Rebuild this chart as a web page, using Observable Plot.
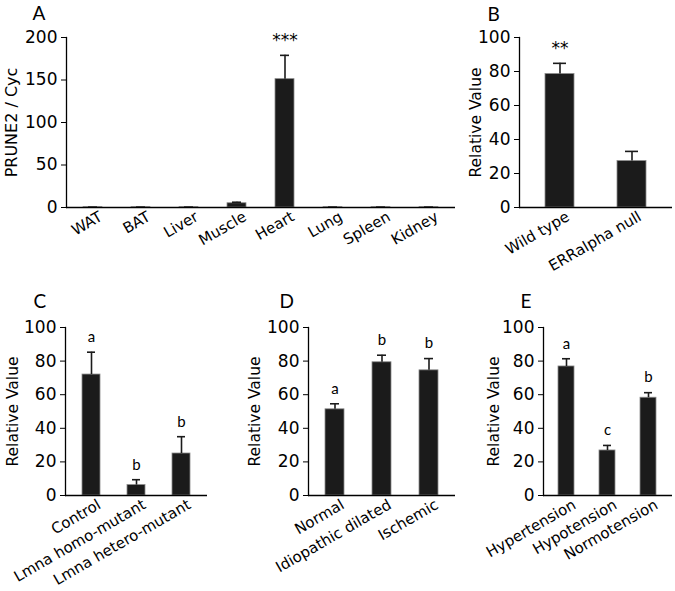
<!DOCTYPE html>
<html>
<head>
<meta charset="utf-8">
<script src="https://cdn.jsdelivr.net/npm/d3@7"></script>
<script src="https://cdn.jsdelivr.net/npm/@observablehq/plot@0.6"></script>
<style>
  html, body { margin: 0; padding: 0; background: #fff; }
  #fig { position: relative; width: 675px; height: 591px; overflow: hidden; background: #fff; }
  #fig > div, #fig > svg { position: absolute; }
</style>
</head>
<body>
<div id="fig"></div>
<script>
// ---- Data ----
const catsA = ["WAT", "BAT", "Liver", "Muscle", "Heart", "Lung", "Spleen", "Kidney"];
const valsA = [0.3, 0.3, 0.3, 5, 151, 0.3, 0.3, 0.3];
const errA  = [0.1, 0.1, 0.1, 1.2, 28, 0.1, 0.1, 0.1];
const sigA  = ["", "", "", "", "***", "", "", ""];
const ticksA = [0, 50, 100, 150, 200];

const catsB = ["Wild type", "ERRalpha null"];
const valsB = [78.5, 27.3];
const errB  = [6.3, 5.7];
const sigB  = ["**", ""];

const catsC = ["Control", "Lmna homo-mutant", "Lmna hetero-mutant"];
const valsC = [72, 6.2, 25];
const errC  = [13.3, 3.2, 10];
const sigC  = ["a", "b", "b"];

const catsD = ["Normal", "Idiopathic dilated", "Ischemic"];
const valsD = [51.3, 79.3, 74.5];
const errD  = [3.3, 4.2, 7];
const sigD  = ["a", "b", "b"];

const catsE = ["Hypertension", "Hypotension", "Normotension"];
const valsE = [76.8, 26.8, 58.2];
const errE  = [4.6, 3, 3];
const sigE  = ["a", "c", "b"];

const ticks100 = [0, 20, 40, 60, 80, 100];

// ---- Drawing ----
function panel(cfg) {
  const rows = cfg.cats.map((c, i) => ({cat: c, v: cfg.vals[i], up: cfg.vals[i] + cfg.errs[i], sig: cfg.sig[i]}));
  const ink = "#1b1b1b";
  const chart = Plot.plot({
    width: cfg.w, height: cfg.h,
    marginLeft: cfg.ml, marginRight: cfg.mr, marginTop: cfg.mt, marginBottom: cfg.mb,
    style: {fontFamily: "DejaVu Sans", fontSize: "15px", color: "#000", background: "transparent", overflow: "visible"},
    x: {domain: cfg.cats, paddingInner: 0.6, paddingOuter: 0.35},
    y: {domain: [0, cfg.ymax]},
    marks: [
      Plot.barY(rows, {x: "cat", y: "v", fill: ink, stroke: "#8a8a8a", strokeWidth: 0.8}),
      Plot.ruleX(rows, {x: "cat", y1: "v", y2: "up", stroke: ink, strokeWidth: 1.6}),
      Plot.tickY(rows, {x: "cat", y: "up", insetLeft: cfg.cap, insetRight: cfg.cap, stroke: ink, strokeWidth: 1.6}),
      Plot.text(rows, {x: "cat", y: "up", text: "sig", dy: cfg.sigDy, fontFamily: cfg.sigFont, fontSize: cfg.sigSize, fill: "#000"}),
      Plot.ruleY([0], {stroke: "#000", strokeWidth: 1.3}),
      Plot.frame({anchor: "left", stroke: "#000", strokeWidth: 1.3}),
      Plot.axisY({ticks: cfg.yticks, tickSize: 5, tickPadding: 4, label: null, fontSize: 17, tickFormat: d => String(d)}),
      Plot.axisX({tickSize: 0, tickPadding: 8, tickRotate: -30, label: null, fontSize: 15, dx: 8}),
      Plot.text([cfg.ylabel], {frameAnchor: "left", textAnchor: "middle", lineAnchor: "middle", rotate: -90,
        dx: cfg.labelDx, fontSize: cfg.labelSize, fill: "#000"}),
      Plot.text([cfg.letter], {frameAnchor: "top-left", textAnchor: "start", lineAnchor: "bottom",
        dx: cfg.letterDx, dy: cfg.letterDy, fontFamily: "Lato", fontSize: 19, fill: "#000"})
    ]
  });
  chart.style.left = cfg.left + "px";
  chart.style.top = cfg.top + "px";
  document.getElementById("fig").appendChild(chart);
}

panel({letter: "A", cats: catsA, vals: valsA, errs: errA, sig: sigA, ymax: 200, yticks: ticksA,
  ylabel: "PRUNE2 / Cyc", labelSize: 16, left: 0, top: 0, w: 460, h: 290, ml: 66, mr: 5, mt: 37, mb: 83,
  cap: 5, sigDy: -15, sigFont: "DejaVu Sans", sigSize: 17, labelDx: -55, letterDx: -34, letterDy: -18});

panel({letter: "B", cats: catsB, vals: valsB, errs: errB, sig: sigB, ymax: 100, yticks: ticks100,
  ylabel: "Relative Value", labelSize: 15.5, left: 460, top: 0, w: 215, h: 290, ml: 59, mr: 3, mt: 37, mb: 83,
  cap: 8, sigDy: -15, sigFont: "DejaVu Sans", sigSize: 17, labelDx: -43, letterDx: -32, letterDy: -17});

panel({letter: "C", cats: catsC, vals: valsC, errs: errC, sig: sigC, ymax: 100, yticks: ticks100,
  ylabel: "Relative Value", labelSize: 15.5, left: 0, top: 295, w: 212, h: 296, ml: 65, mr: 5, mt: 32, mb: 96,
  cap: 5, sigDy: -15, sigFont: "Lato", sigSize: 15, labelDx: -52, letterDx: -32, letterDy: -20});

panel({letter: "D", cats: catsD, vals: valsD, errs: errD, sig: sigD, ymax: 100, yticks: ticks100,
  ylabel: "Relative Value", labelSize: 15.5, left: 212, top: 295, w: 248, h: 296, ml: 96, mr: 5, mt: 32, mb: 96,
  cap: 5, sigDy: -15, sigFont: "Lato", sigSize: 15, labelDx: -53, letterDx: -29, letterDy: -20});

panel({letter: "E", cats: catsE, vals: valsE, errs: errE, sig: sigE, ymax: 100, yticks: ticks100,
  ylabel: "Relative Value", labelSize: 15.5, left: 460, top: 295, w: 215, h: 296, ml: 83, mr: 3, mt: 32, mb: 96,
  cap: 4, sigDy: -15, sigFont: "Lato", sigSize: 15, labelDx: -49, letterDx: -23, letterDy: -20});
</script>
</body>
</html>
